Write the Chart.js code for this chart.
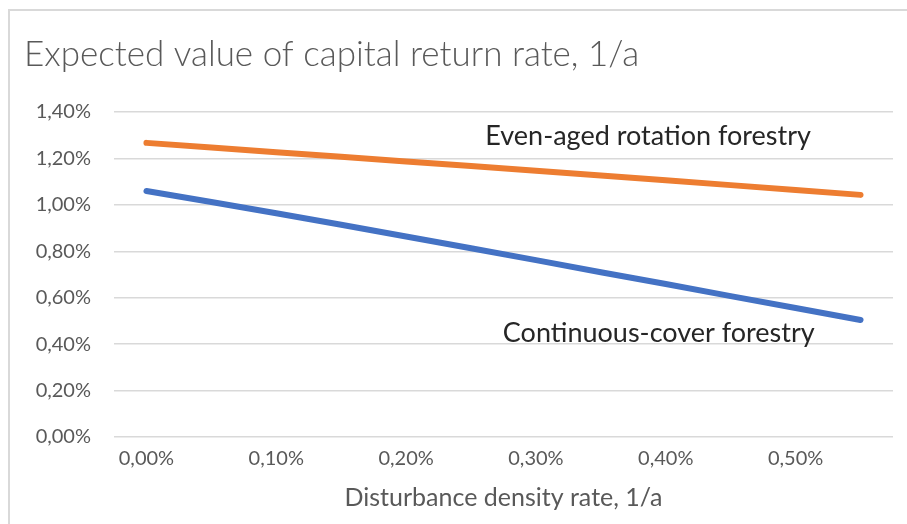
<!DOCTYPE html>
<html>
<head>
<meta charset="utf-8">
<script src="https://cdn.jsdelivr.net/npm/chart.js@4.4.1/dist/chart.umd.min.js"></script>
<style>
  html, body { margin: 0; padding: 0; background: #fff; }
  #wrap { position: relative; width: 907px; height: 524px; overflow: hidden; }
  #frame { position: absolute; left: 8px; top: 9px; width: 1000px; height: 600px;
           border-top: 2px solid #d9d9d9; border-left: 2px solid #d9d9d9; }
  canvas { position: absolute; left: 0; top: 0; }
</style>
</head>
<body>
<div id="wrap">
  <div id="frame"></div>
  <canvas id="grafik" width="907" height="524"></canvas>
</div>
<script>
// disturbance density rate, % per year (categories)
const tingkatGangguan = [0, 0.05, 0.10, 0.15, 0.20, 0.25, 0.30, 0.35, 0.40, 0.45, 0.50, 0.55];
// expected capital return rate, %
const evenAged = [1.267, 1.247, 1.227, 1.207, 1.187, 1.167, 1.147, 1.126, 1.106, 1.085, 1.064, 1.043];
const continuousCover = [1.060, 1.012, 0.964, 0.914, 0.864, 0.813, 0.762, 0.710, 0.659, 0.607, 0.556, 0.504];
const yTicks = [0, 0.2, 0.4, 0.6, 0.8, 1.0, 1.2, 1.4];

const persen = v => v.toFixed(2).replace('.', ',') + '%';

const grey = '#595959';
const fontFam = 'Lato, "Open Sans", sans-serif';

// text labels placed in data units: x = category index, y = value
const labelGaris = [
  { text: 'Even-aged rotation forestry', x: 5.22, y: 1.297 },
  { text: 'Continuous-cover forestry', x: 5.49, y: 0.448 }
];

const pluginLabel = {
  id: 'labelGaris',
  afterDatasetsDraw(chart) {
    const { ctx, scales } = chart;
    ctx.save();
    ctx.font = '27px ' + fontFam;
    ctx.fillStyle = '#262626';
    ctx.textAlign = 'left';
    ctx.textBaseline = 'middle';
    labelGaris.forEach(l => {
      ctx.fillText(l.text, scales.x.getPixelForValue(l.x), scales.y.getPixelForValue(l.y));
    });
    ctx.restore();
  }
};

const ctx = document.getElementById('grafik').getContext('2d');
window.chartReturn = new Chart(ctx, {
  type: 'line',
  data: {
    labels: tingkatGangguan.map(persen),
    datasets: [{
      label: 'Even-aged rotation forestry',
      data: evenAged,
      borderColor: '#ed7d31',
      borderWidth: 6,
      borderCapStyle: 'round',
      pointRadius: 0,
      tension: 0
    }, {
      label: 'Continuous-cover forestry',
      data: continuousCover,
      borderColor: '#4472c4',
      borderWidth: 6,
      borderCapStyle: 'round',
      pointRadius: 0,
      tension: 0
    }]
  },
  options: {
    responsive: false,
    animation: false,
    layout: { padding: { left: 24, right: 14, top: 0, bottom: 11 } },
    plugins: {
      legend: { display: false },
      tooltip: { enabled: false },
      title: {
        display: true,
        text: 'Expected value of capital return rate, 1/a',
        align: 'start',
        color: grey,
        font: { family: fontFam, size: 35, weight: '300' },
        padding: { top: 34, bottom: 36 }
      }
    },
    scales: {
      x: {
        type: 'category',
        offset: true,
        grid: { display: false, drawTicks: false },
        border: { display: false },
        ticks: {
          autoSkip: false,
          maxRotation: 0,
          padding: 10,
          color: grey,
          font: { family: fontFam, size: 20 },
          callback: (v, i) => (i % 2 === 0 ? persen(tingkatGangguan[i]) : '')
        },
        title: {
          display: true,
          text: 'Disturbance density rate, 1/a',
          color: grey,
          font: { family: fontFam, size: 25 },
          padding: { top: 2, bottom: 0 }
        }
      },
      y: {
        min: 0,
        max: 1.4,
        afterFit: s => { s.width = 90; },
        afterBuildTicks: s => { s.ticks = yTicks.map(v => ({ value: v })); },
        grid: { color: '#d9d9d9', lineWidth: 1.5, drawTicks: false },
        border: { display: false },
        ticks: {
          padding: 23,
          color: grey,
          font: { family: fontFam, size: 20 },
          callback: v => persen(v)
        }
      }
    }
  },
  plugins: [pluginLabel]
});
</script>
</body>
</html>
